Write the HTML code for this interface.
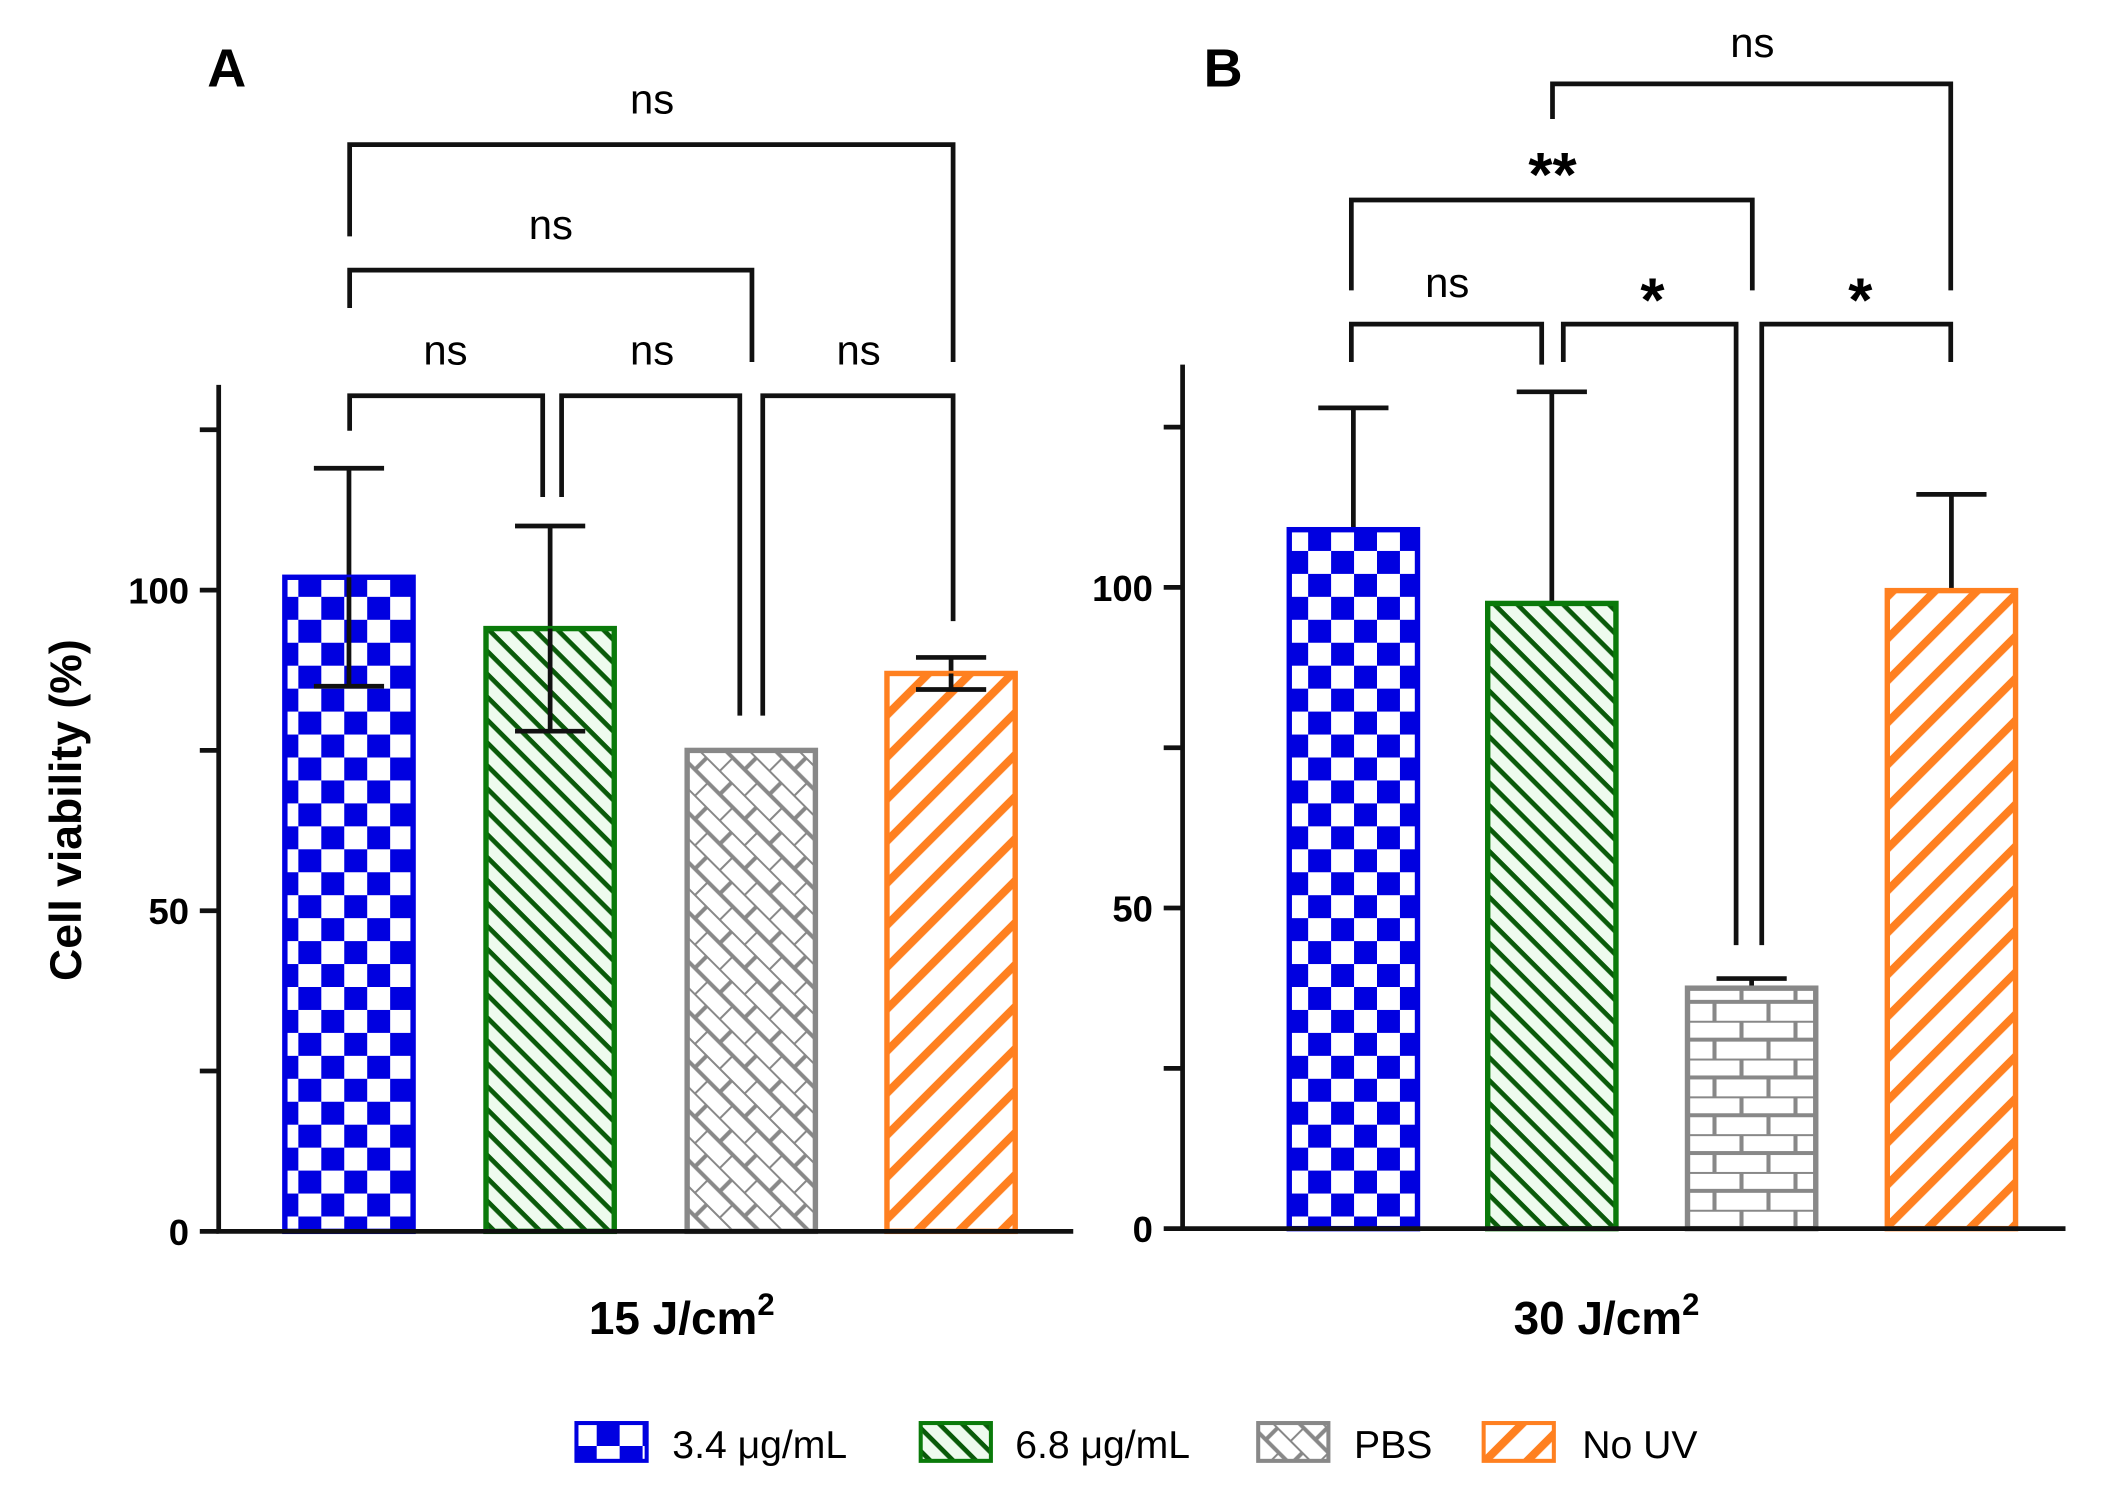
<!DOCTYPE html>
<html><head><meta charset="utf-8"><style>
html,body{margin:0;padding:0;background:#fff}
svg{display:block}
text{font-family:"Liberation Sans",Arial,sans-serif}
</style></head><body>
<svg id="chart" width="2106" height="1488" viewBox="0 0 1560 1102" xmlns="http://www.w3.org/2000/svg">
<defs>
<pattern id="pChk" width="34" height="34" patternUnits="userSpaceOnUse">
<rect width="34" height="34" fill="#fff"/><rect width="17" height="17" fill="#0000e0"/><rect x="17" y="17" width="17" height="17" fill="#0000e0"/>
</pattern>
<pattern id="pGreen" width="12" height="12" patternUnits="userSpaceOnUse" patternTransform="rotate(45)">
<rect width="12" height="12" fill="#eefbee"/><rect width="12" height="3.5" fill="#0a5a0a"/>
</pattern>
<pattern id="pOrange" width="22" height="22" patternUnits="userSpaceOnUse" patternTransform="rotate(-45)">
<rect width="22" height="22" fill="#fff"/><rect width="22" height="6" fill="#ff8020"/>
</pattern>
<pattern id="pGrayA" width="26" height="26" patternUnits="userSpaceOnUse" patternTransform="rotate(45)">
<rect width="26" height="26" fill="#fff"/><path d="M0 0H26M0 13H26M13 0V13M0 13V26" stroke="#888" stroke-width="3" fill="none"/>
</pattern>
<pattern id="pGrayB" width="40" height="28" patternUnits="userSpaceOnUse">
<rect width="40" height="28" fill="#fff"/><path d="M0 0H40M0 14H40M10 0V14M30 14V28" stroke="#888" stroke-width="3" fill="none"/>
</pattern>
</defs>
<g id="panels"></g>
<text x="168" y="64" font-size="40" font-weight="bold" text-anchor="middle">A</text>
<text x="906" y="64" font-size="40" font-weight="bold" text-anchor="middle">B</text>
<text transform="translate(60,600) rotate(-90)" font-size="33" font-weight="bold" text-anchor="middle">Cell viability (%)</text>
<text x="505" y="988" font-size="34" font-weight="bold" text-anchor="middle">15 J/cm<tspan dy="-14" font-size="23">2</tspan></text>
<text x="1190" y="988" font-size="34" font-weight="bold" text-anchor="middle">30 J/cm<tspan dy="-14" font-size="23">2</tspan></text>
<g>
<rect x="427" y="1054" width="52" height="28" fill="url(#pChk)" stroke="#0000e0" stroke-width="3"/>
<text x="498" y="1080" font-size="29">3.4 μg/mL</text>
<rect x="682" y="1054" width="52" height="28" fill="url(#pGreen)" stroke="#0a7a0a" stroke-width="3"/>
<text x="752" y="1080" font-size="29">6.8 μg/mL</text>
<rect x="932" y="1054" width="52" height="28" fill="url(#pGrayA)" stroke="#888" stroke-width="3"/>
<text x="1003" y="1080" font-size="29">PBS</text>
<rect x="1099" y="1054" width="52" height="28" fill="url(#pOrange)" stroke="#ff8020" stroke-width="3"/>
<text x="1172" y="1080" font-size="29">No UV</text>
</g>
</svg>
<script>
const categories = ["3.4 ug/mL", "6.8 ug/mL", "PBS", "No UV"];
const valuesA = [102, 94, 75, 87];
const errorsA = [17, 16, 0, 2.5];
const valuesB = [109, 97.5, 37.5, 99.5];
const errorsB = [19, 33, 1.5, 15];
const yTicks = [0, 25, 50, 75, 100, 125];
const yTickLabels = ["0", "", "50", "", "100", ""];
const NS = "http://www.w3.org/2000/svg";
const root = document.getElementById('panels');
function el(tag, attrs, parent) {
  const e = document.createElementNS(NS, tag);
  for (const k in attrs) e.setAttribute(k, attrs[k]);
  (parent || root).appendChild(e);
  return e;
}
const strokes = ["#0000e0", "#0a7a0a", "#888", "#ff8020"];
const panels = [
  {id: 'a', axisX: 162, y0: 912, y100: 437, top: 285, right: 795, barX: [211, 360, 509, 657], vals: valuesA, errs: errorsA, gray: 'url(#pGrayA)'},
  {id: 'b', axisX: 876, y0: 910, y100: 435, top: 270, right: 1530, barX: [955, 1102, 1250, 1398], vals: valuesB, errs: errorsB, gray: 'url(#pGrayB)'}
];
const fills = ['url(#pChk)', 'url(#pGreen)', null, 'url(#pOrange)'];
panels.forEach(p => {
  const y = v => p.y0 - (p.y0 - p.y100) * v / 100;
  const g = el('g', {});
  
  
  p.vals.forEach((v, i) => {
    const x = p.barX[i], w = 95, cx = x + w / 2;
    const e = p.errs[i];
    if (e > 0) {
      const eb = el('path', {d: `M${cx} ${y(v)}V${y(v + e)}M${cx - 26} ${y(v + e)}H${cx + 26}`, stroke: '#111', 'stroke-width': 3.5, fill: 'none'}, g);
      
      
    }
    const r = el('rect', {x: x, y: y(v), width: w, height: p.y0 - y(v), fill: fills[i] || p.gray, stroke: strokes[i], 'stroke-width': 4}, g);
    
    
    if (e > 0 && p.id === 'a' && i !== 2) {
      const eb2 = el('path', {d: `M${cx} ${y(v)}V${y(v - e)}M${cx - 26} ${y(v - e)}H${cx + 26}`, stroke: '#111', 'stroke-width': 3.5, fill: 'none'}, g);
      
      
    }
  });
  const ax = el('path', {d: `M${p.axisX} ${p.top}V${p.y0}H${p.right}`, stroke: '#111', 'stroke-width': 3.5, fill: 'none'}, g);
  
  
  yTicks.forEach((t, i) => {
    const tk = el('line', {x1: p.axisX - 14, x2: p.axisX, y1: y(t), y2: y(t), stroke: '#111', 'stroke-width': 3.5}, g);
    
    
    if (yTickLabels[i]) {
      const tl = el('text', {x: p.axisX - 22, y: y(t) + 10, 'font-size': 27, 'font-weight': 'bold', 'text-anchor': 'end'}, g);
      tl.textContent = yTickLabels[i];
      
      
    }
  });
});
// significance brackets: [x1, x2, y, leftLegEnd, rightLegEnd, label, labelX, labelY, bold]
const brackets = [
  [259, 402, 293, 319, 368, 'ns', 330, 270, false],
  [416, 548, 293, 368, 530, 'ns', 483, 270, false],
  [565, 706, 293, 530, 460, 'ns', 636, 270, false],
  [259, 557, 200, 228, 268, 'ns', 408, 177, false],
  [259, 706, 107, 175, 268, 'ns', 483, 84, false],
  [1001, 1142, 240, 268, 270, 'ns', 1072, 220, false],
  [1158, 1286, 240, 268, 700, '*', 1224, 238, true],
  [1305, 1445, 240, 700, 268, '*', 1378, 238, true],
  [1001, 1298, 148, 215, 215, '**', 1150, 145, true],
  [1150, 1445, 62, 88, 215, 'ns', 1298, 42, false]
];
brackets.forEach((b, i) => {
  const p = el('path', {d: `M${b[0]} ${b[3]}V${b[2]}H${b[1]}V${b[4]}`, stroke: '#111', 'stroke-width': 3.5, fill: 'none'});
  
  
  const t = el('text', {x: b[6], y: b[7], 'font-size': b[8] ? 46 : 31, 'font-weight': b[8] ? 'bold' : 'normal', 'text-anchor': 'middle'});
  t.textContent = b[5];
  
  
});
</script>
</body></html>
